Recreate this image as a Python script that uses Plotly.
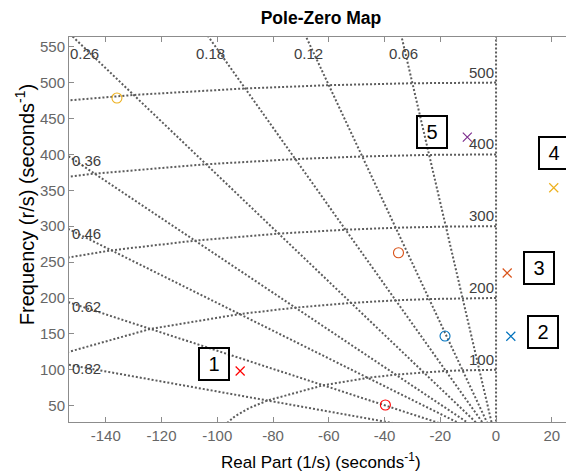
import numpy as np
import plotly.graph_objects as go

# s-plane grid: damping ratios and natural frequencies (rad/s)
damping = [0.82, 0.62, 0.46, 0.36, 0.26, 0.18, 0.12, 0.06]
damping_labels = ["0.82", "0.62", "0.46", "0.36", "0.26", "0.18", "0.12", "0.06"]
nat_freqs = [100, 200, 300, 400, 500]
freq_labels = ["100", "200", "300", "400", "500"]

# Poles and zeros of the five systems
system_names = ["1", "2", "3", "4", "5"]
system_colors = ["#FF0000", "#0072BD", "#D95319", "#EDB120", "#7E2F8E"]
pole_re = [-91.8, 5.3, 4.0, 20.7, -10.3]
pole_im = [98.3, 146.7, 234.8, 353.6, 424.0]
zero_re = [-39.7, -18.3, -35.0, -136.0, None]
zero_im = [51.0, 147.0, 263.0, 478.5, None]

# Numbered callout boxes (centre, data units)
box_re = [-101.1, 16.9, 15.5, 20.9, -23.0]
box_im = [108.0, 152.6, 242.2, 402.6, 431.2]

# Axes
x_ticks = [-140, -120, -100, -80, -60, -40, -20, 0, 20]
x_tick_text = ["-140", "-120", "-100", "-80", "-60", "-40", "-20", "0", "20"]
y_ticks = [50, 100, 150, 200, 250, 300, 350, 400, 450, 500, 550]
y_tick_text = [str(v) for v in y_ticks]
x_range = [-153.2, 25.1]
y_range = [27.3, 563.5]

GRID_COLOR = "#5c5c5c"
GRID_DASH = "2px,2px"
FONT = "Liberation Sans, Arial, Helvetica, sans-serif"

fig = go.Figure()

# Constant-damping rays from the origin
far = 2000.0
for z in damping + [0.0]:
    wd = np.sqrt(1.0 - z * z)
    fig.add_trace(go.Scatter(
        x=[0.0, -far * z], y=[0.0, far * wd], mode="lines",
        line=dict(color=GRID_COLOR, width=2, dash=GRID_DASH),
        hoverinfo="skip", showlegend=False))

# Constant natural-frequency curves: straight segments between the rays,
# smooth arc between the most-damped ray and the real axis
zs = sorted([0.0] + damping)
tail = np.linspace(np.arccos(max(damping)), 0.0, 24)[1:]
for wn in nat_freqs:
    xs = [-wn * z for z in zs] + list(-wn * np.cos(tail))
    ys = [wn * np.sqrt(1 - z * z) for z in zs] + list(wn * np.sin(tail))
    fig.add_trace(go.Scatter(
        x=xs, y=ys, mode="lines",
        line=dict(color=GRID_COLOR, width=2, dash=GRID_DASH),
        hoverinfo="skip", showlegend=False))

# Zeros (circles) and poles (crosses)
for name, c, pr, pi_, zr, zi in zip(system_names, system_colors, pole_re, pole_im, zero_re, zero_im):
    if zr is not None:
        fig.add_trace(go.Scatter(
            x=[zr], y=[zi], mode="markers", name="zero " + name,
            marker=dict(symbol="circle-open", size=10, color=c, line=dict(width=1.1, color=c)),
            showlegend=False))
    fig.add_trace(go.Scatter(
        x=[pr], y=[pi_], mode="markers", name="pole " + name,
        marker=dict(symbol="x-thin", size=9, color=c, line=dict(width=1.2, color=c)),
        showlegend=False))

annotations = []
label_font = dict(family=FONT, size=15, color="#404040")

# Damping labels: on the left edge, or along the top edge when the ray leaves there
px_per_x = 497.0 / (x_range[1] - x_range[0])
for z, txt in zip(damping, damping_labels):
    slope = np.sqrt(1 - z * z) / z
    y_left = -x_range[0] * slope
    if y_left <= y_range[1]:
        annotations.append(dict(x=x_range[0], y=y_left, xref="x", yref="y", text=txt,
                                showarrow=False, xanchor="left", yanchor="middle",
                                xshift=1, yshift=-4, font=label_font))
    else:
        x_top = -y_range[1] / slope
        if (x_top - x_range[0]) * px_per_x < 15:
            annotations.append(dict(x=x_range[0], y=y_range[1], xref="x", yref="y", text=txt,
                                    showarrow=False, xanchor="left", yanchor="middle",
                                    xshift=-1, yshift=-16.5, font=label_font))
        else:
            annotations.append(dict(x=x_top, y=y_range[1], xref="x", yref="y", text=txt,
                                    showarrow=False, xanchor="center", yanchor="middle",
                                    xshift=2, yshift=-16.5, font=label_font))

# Natural-frequency labels next to the imaginary axis
for wn, txt in zip(nat_freqs, freq_labels):
    annotations.append(dict(x=0, y=wn, xref="x", yref="y", text=txt, showarrow=False,
                            xanchor="right", yanchor="bottom", xshift=0, yshift=0,
                            font=label_font))

# Numbered callouts
for name, bx, by in zip(system_names, box_re, box_im):
    annotations.append(dict(x=bx, y=by, xref="x", yref="y", text=name, showarrow=False,
                            xanchor="center", yanchor="middle", width=26, height=28,
                            borderpad=1, borderwidth=2, bordercolor="#000000",
                            bgcolor="rgba(0,0,0,0)",
                            font=dict(family=FONT, size=20, color="#000000")))

# Axis titles
annotations.append(dict(x=0.507, y=-0.10, xref="paper", yref="paper",
                        text="Real Part (1/s) (seconds<sup>-1</sup>)", showarrow=False,
                        xanchor="center", yanchor="middle",
                        font=dict(family=FONT, size=17, color="#000000")))
annotations.append(dict(x=-0.089, y=0.565, xref="paper", yref="paper", textangle=-90,
                        text="Frequency (r/s) (seconds<sup>-1</sup>)", showarrow=False,
                        xanchor="center", yanchor="middle",
                        font=dict(family=FONT, size=20, color="#000000")))

axis_common = dict(showgrid=False, zeroline=False, showline=True, linecolor="#8c8c8c",
                   linewidth=1, ticks="inside", ticklen=5, tickcolor="#8c8c8c",
                   tickfont=dict(family=FONT, size=15, color="#666666"))

fig.update_layout(
    width=566, height=475,
    margin=dict(l=69, r=0, t=37, b=53),
    paper_bgcolor="white", plot_bgcolor="white",
    title=dict(text="<b>Pole-Zero Map</b>", x=0.507, xref="paper", xanchor="center",
               y=1 - 18 / 475, yref="container", yanchor="middle",
               font=dict(family=FONT, size=17.5, color="#000000")),
    xaxis=dict(range=x_range, tickvals=x_ticks, ticktext=x_tick_text, mirror="ticks",
               **axis_common),
    yaxis=dict(range=y_range, tickvals=y_ticks, ticktext=y_tick_text, **axis_common),
    annotations=annotations,
    showlegend=False,
)

fig.write_html("out.html")
